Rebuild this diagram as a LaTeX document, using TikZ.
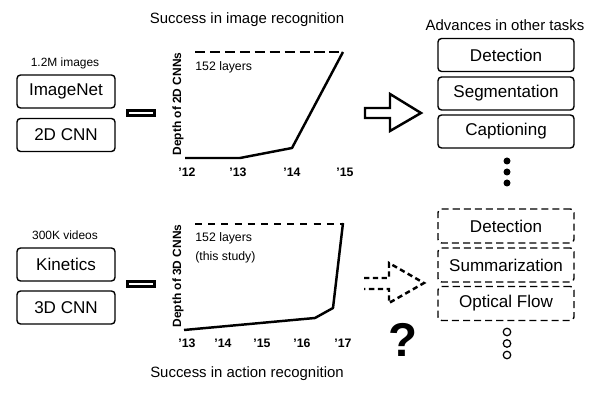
\documentclass[tikz,border=0pt]{standalone}
\usepackage{fontspec}
\setmainfont{Liberation Sans}
\usetikzlibrary{positioning,calc}

\begin{document}
\begin{tikzpicture}[
  inbox/.style={rectangle, draw=black, line width=0.8pt, fill=white, minimum width=1.96cm,
    minimum height=0.66cm, rounded corners=2pt, inner sep=1pt, font=\fontsize{9.7}{11}\selectfont},
  taskbox/.style={inbox, minimum width=2.72cm},
  newtask/.style={taskbox, minimum height=0.68cm, dash pattern=on 4pt off 2.3pt},
  eqsign/.style={rectangle, draw=black, line width=1.8pt, minimum width=0.54cm,
    minimum height=0.10cm, inner sep=0pt},
  bigarrow/.style={draw=black, line width=1.4pt, line join=miter},
  curve/.style={line width=1.4pt, line join=round},
  toplimit/.style={line width=1.5pt, dash pattern=on 5.7pt off 2.8pt},
  title/.style={font=\fontsize{8.5}{10}\selectfont},
  small/.style={font=\fontsize{6.8}{8}\selectfont},
  ylab/.style={font=\fontsize{6.8}{8}\selectfont\bfseries, rotate=90},
  tick/.style={font=\fontsize{7}{8}\selectfont\bfseries},
  note/.style={font=\fontsize{7}{10.8}\selectfont, align=left, anchor=west, inner sep=0pt},
  fdot/.style={circle, fill=black, minimum size=0.14cm, inner sep=0pt},
  hdot/.style={circle, draw=black, line width=0.7pt, minimum size=0.15cm, inner sep=0pt},
]
\useasboundingbox (0,0) rectangle (12,8);

%% ── Top row: image recognition ──
\node[small] (imgcount) at (1.30,6.74) {1.2M images};
\node[inbox] (imagenet) at (1.32,6.17) {ImageNet};
\node[inbox] (cnn2d)    at (1.32,5.30) {2D CNN};
\node[eqsign] (eq1)     at (2.82,5.74) {};

\node[title] (title1) at (4.94,7.60) {Success in image recognition};
\node[ylab] (ylab1) at (3.56,5.92) {Depth of 2D CNNs};
\draw[toplimit] (3.90,6.96) -- (6.86,6.96);
\node[note] (layers1) at (3.90,6.66) {152 layers};
\draw[curve] (3.70,4.84) -- (4.80,4.84) -- (5.84,5.04) -- (6.86,6.96);
\foreach \x/\yr in {3.74/12, 4.76/13, 5.84/14, 6.90/15}
  \node[tick] (yr\yr) at (\x,4.56) {'\yr};

%% hollow arrow
\draw[bigarrow] (7.30,5.64) -- (7.80,5.64) -- (7.80,5.38) -- (8.42,5.74)
  -- (7.80,6.12) -- (7.80,5.84) -- (7.30,5.84) -- cycle;

\node[title] (title2) at (10.10,7.50) {Advances in other tasks};
\node[taskbox] (det1) at (10.12,6.90) {Detection};
\node[taskbox] (seg)  at (10.12,6.13) {Segmentation};
\node[taskbox] (cap)  at (10.12,5.37) {Captioning};
\foreach \i/\y in {1/4.78, 2/4.56, 3/4.34}
  \node[fdot] (fd\i) at (10.14,\y) {};

%% ── Bottom row: action recognition ──
\node[small] (vidcount) at (1.30,3.30) {300K videos};
\node[inbox] (kinetics) at (1.32,2.71) {Kinetics};
\node[inbox] (cnn3d)    at (1.32,1.85) {3D CNN};
\node[eqsign] (eq2)     at (2.82,2.32) {};

\node[ylab] (ylab2) at (3.56,2.48) {Depth of 3D CNNs};
\draw[line width=1.2pt, dash pattern=on 4pt off 3.5pt] (3.90,3.52) -- (6.86,3.52);
\node[note] (layers2) at (3.90,3.05) {152 layers\\(this study)};
\draw[curve] (3.68,1.40) -- (6.30,1.64) -- (6.66,1.84) -- (6.86,3.54);
\foreach \x/\yr in {3.74/13, 4.46/14, 5.24/15, 6.04/16, 6.86/17}
  \node[tick] (yr\yr) at (\x,1.14) {'\yr};
\node[title] (title3) at (4.94,0.52) {Success in action recognition};

%% dashed hollow arrow
\draw[bigarrow, dash pattern=on 3pt off 2pt] (7.28,2.44) -- (7.78,2.44) -- (7.78,2.74)
  -- (8.48,2.34) -- (7.78,1.94) -- (7.78,2.22) -- (7.28,2.22);
\node[font=\fontsize{27}{27}\selectfont\bfseries] (qmark) at (8.06,1.20) {?};

\node[newtask] (det2) at (10.12,3.48) {Detection};
\node[newtask] (summ) at (10.12,2.70) {Summarization};
\node[newtask] (flow) at (10.12,1.93) {Optical Flow};
\foreach \i/\y in {1/1.36, 2/1.13, 3/0.90}
  \node[hdot] (hd\i) at (10.14,\y) {};
\end{tikzpicture}
\end{document}
